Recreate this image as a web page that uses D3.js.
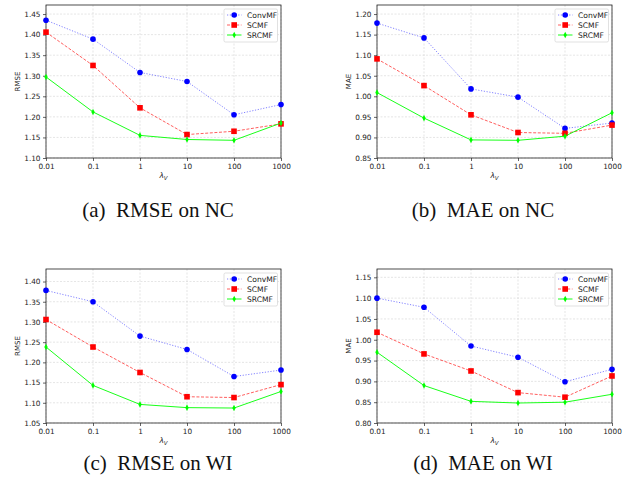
<!DOCTYPE html>
<html>
<head>
<meta charset="utf-8">
<script src="https://cdn.jsdelivr.net/npm/d3@7"></script>
<style>
  html, body { margin: 0; padding: 0; background: #fff; }
  svg { display: block; }
  .tick text { font-family: "DejaVu Sans", sans-serif; font-size: 7.3px; fill: #222; }
  .caption { font-family: "Liberation Serif", "Times New Roman", serif; font-size: 21px; fill: #111; }
</style>
</head>
<body>
<svg id="chart" width="630" height="487"></svg>
<script>
const lambdas = ["0.01", "0.1", "1", "10", "100", "1000"];
const seriesNames = ["ConvMF", "SCMF", "SRCMF"];

// (a) RMSE on NC
const rmseNcConv = [1.435, 1.389, 1.308, 1.286, 1.205, 1.230];
const rmseNcScmf = [1.406, 1.325, 1.222, 1.157, 1.165, 1.183];
const rmseNcSrcmf = [1.297, 1.212, 1.155, 1.145, 1.143, 1.185];

// (b) MAE on NC
const maeNcConv = [1.178, 1.142, 1.018, 0.998, 0.922, 0.935];
const maeNcScmf = [1.091, 1.026, 0.955, 0.912, 0.910, 0.930];
const maeNcSrcmf = [1.009, 0.947, 0.894, 0.893, 0.903, 0.960];

// (c) RMSE on WI
const rmseWiConv = [1.378, 1.350, 1.265, 1.232, 1.165, 1.181];
const rmseWiScmf = [1.306, 1.238, 1.175, 1.115, 1.113, 1.145];
const rmseWiSrcmf = [1.238, 1.143, 1.096, 1.088, 1.087, 1.128];

// (d) MAE on WI
const maeWiConv = [1.100, 1.078, 0.985, 0.958, 0.899, 0.929];
const maeWiScmf = [1.018, 0.966, 0.925, 0.873, 0.862, 0.913];
const maeWiSrcmf = [0.970, 0.890, 0.852, 0.848, 0.850, 0.869];

const svg = d3.select("#chart");

const styles = {
  ConvMF: { color: "#0000ff", dash: "1.2,1.6", opacity: 0.55, marker: "circle" },
  SCMF: { color: "#ff0000", dash: "3,1.6", opacity: 0.7, marker: "square" },
  SRCMF: { color: "#00ff00", dash: null, opacity: 1, marker: "diamond" },
};

const panels = [
  { box: [46, 281, 5, 158], domain: [1.10, 1.472], ylabel: "RMSE", caption: "(a)\u2002RMSE on NC", cx: 158, cy: 217,
    series: [rmseNcConv, rmseNcScmf, rmseNcSrcmf] },
  { box: [377, 612, 5, 158], domain: [0.85, 1.222], ylabel: "MAE", caption: "(b)\u2002MAE on NC", cx: 483, cy: 217,
    series: [maeNcConv, maeNcScmf, maeNcSrcmf] },
  { box: [46, 281, 269, 423], domain: [1.05, 1.431], ylabel: "RMSE", caption: "(c)\u2002RMSE on WI", cx: 158, cy: 470,
    series: [rmseWiConv, rmseWiScmf, rmseWiSrcmf] },
  { box: [377, 612, 269, 423], domain: [0.80, 1.170], ylabel: "MAE", caption: "(d)\u2002MAE on WI", cx: 483, cy: 470,
    series: [maeWiConv, maeWiScmf, maeWiSrcmf] },
];

function drawMarker(g, type, x, y, color) {
  if (type === "circle") {
    g.append("circle").attr("cx", x).attr("cy", y).attr("r", 2.8).attr("fill", color);
  } else if (type === "square") {
    g.append("rect").attr("x", x - 2.8).attr("y", y - 2.8).attr("width", 5.6).attr("height", 5.6).attr("fill", color);
  } else {
    g.append("path")
      .attr("d", `M${x},${y - 3.3}L${x + 1.7},${y}L${x},${y + 3.3}L${x - 1.7},${y}Z`)
      .attr("fill", color);
  }
}

function drawPanel(p) {
  const [x0, x1, y0, y1] = p.box;
  const x = d3.scalePoint().domain(lambdas).range([x0, x1]).padding(0);
  const y = d3.scaleLinear().domain(p.domain).range([y1, y0]);
  const yTicks = d3.range(Math.round(p.domain[0] * 100), p.domain[1] * 100 + 0.001, 5).map((v) => v / 100);

  const g = svg.append("g");

  // grid
  g.append("g")
    .selectAll("line.gy")
    .data(yTicks)
    .join("line")
    .attr("x1", x0).attr("x2", x1)
    .attr("y1", (d) => y(d)).attr("y2", (d) => y(d))
    .attr("stroke", "#d4d4d4").attr("stroke-width", 0.6).attr("stroke-dasharray", "2,1.5");
  g.append("g")
    .selectAll("line.gx")
    .data(lambdas)
    .join("line")
    .attr("x1", (d) => x(d)).attr("x2", (d) => x(d))
    .attr("y1", y0).attr("y2", y1)
    .attr("stroke", "#d4d4d4").attr("stroke-width", 0.6).attr("stroke-dasharray", "2,1.5");

  // axes
  const yAxis = g.append("g")
    .attr("transform", `translate(${x0},0)`)
    .call(d3.axisLeft(y).tickValues(yTicks).tickFormat(d3.format(".2f")).tickSize(3).tickPadding(2.5));
  const xAxis = g.append("g")
    .attr("transform", `translate(0,${y1})`)
    .call(d3.axisBottom(x).tickSize(3).tickPadding(2.5));
  [yAxis, xAxis].forEach((a) => {
    a.select(".domain").remove();
    a.selectAll(".tick line").attr("stroke", "#222").attr("stroke-width", 0.7);
  });

  // frame
  g.append("rect")
    .attr("x", x0).attr("y", y0).attr("width", x1 - x0).attr("height", y1 - y0)
    .attr("fill", "none").attr("stroke", "#222").attr("stroke-width", 0.8);

  // axis labels
  g.append("text")
    .attr("transform", `translate(${x0 - 26},${(y0 + y1) / 2}) rotate(-90)`)
    .attr("text-anchor", "middle")
    .attr("font-family", "DejaVu Sans, sans-serif").attr("font-size", 7).attr("fill", "#222")
    .text(p.ylabel);
  const xl = g.append("text")
    .attr("x", (x0 + x1) / 2).attr("y", y1 + 20)
    .attr("text-anchor", "middle")
    .attr("font-family", "DejaVu Sans, sans-serif").attr("font-size", 7.5).attr("font-style", "italic").attr("fill", "#222");
  xl.append("tspan").text("\u03bb");
  xl.append("tspan").attr("font-size", 5.5).attr("dy", 1.5).text("V");

  // series
  p.series.forEach((vals, i) => {
    const st = styles[seriesNames[i]];
    const line = d3.line().x((d, j) => x(lambdas[j])).y((d) => y(d));
    g.append("path")
      .datum(vals)
      .attr("d", line)
      .attr("fill", "none")
      .attr("stroke", st.color)
      .attr("stroke-opacity", st.opacity)
      .attr("stroke-width", 0.9)
      .attr("stroke-dasharray", st.dash);
    vals.forEach((v, j) => drawMarker(g, st.marker, x(lambdas[j]), y(v), st.color));
  });

  // legend
  const lx = x1 - 57, ly = y0 + 4;
  const lg = g.append("g");
  lg.append("rect")
    .attr("x", lx).attr("y", ly).attr("width", 53.5).attr("height", 33)
    .attr("rx", 1.5).attr("fill", "#fff").attr("fill-opacity", 0.85)
    .attr("stroke", "#ccc").attr("stroke-width", 0.6);
  seriesNames.forEach((name, i) => {
    const st = styles[name];
    const yy = ly + 6 + i * 10;
    lg.append("line")
      .attr("x1", lx + 3).attr("x2", lx + 17.5).attr("y1", yy).attr("y2", yy)
      .attr("stroke", st.color).attr("stroke-opacity", st.opacity)
      .attr("stroke-width", 0.9).attr("stroke-dasharray", st.dash);
    drawMarker(lg, st.marker, lx + 10.2, yy, st.color);
    lg.append("text")
      .attr("x", lx + 23).attr("y", yy + 2.7)
      .attr("font-family", "DejaVu Sans, sans-serif").attr("font-size", 7.6).attr("fill", "#222")
      .text(name);
  });

  // caption
  svg.append("text")
    .attr("class", "caption")
    .attr("x", p.cx).attr("y", p.cy)
    .attr("text-anchor", "middle")
    .text(p.caption);
}

panels.forEach(drawPanel);
</script>
</body>
</html>
